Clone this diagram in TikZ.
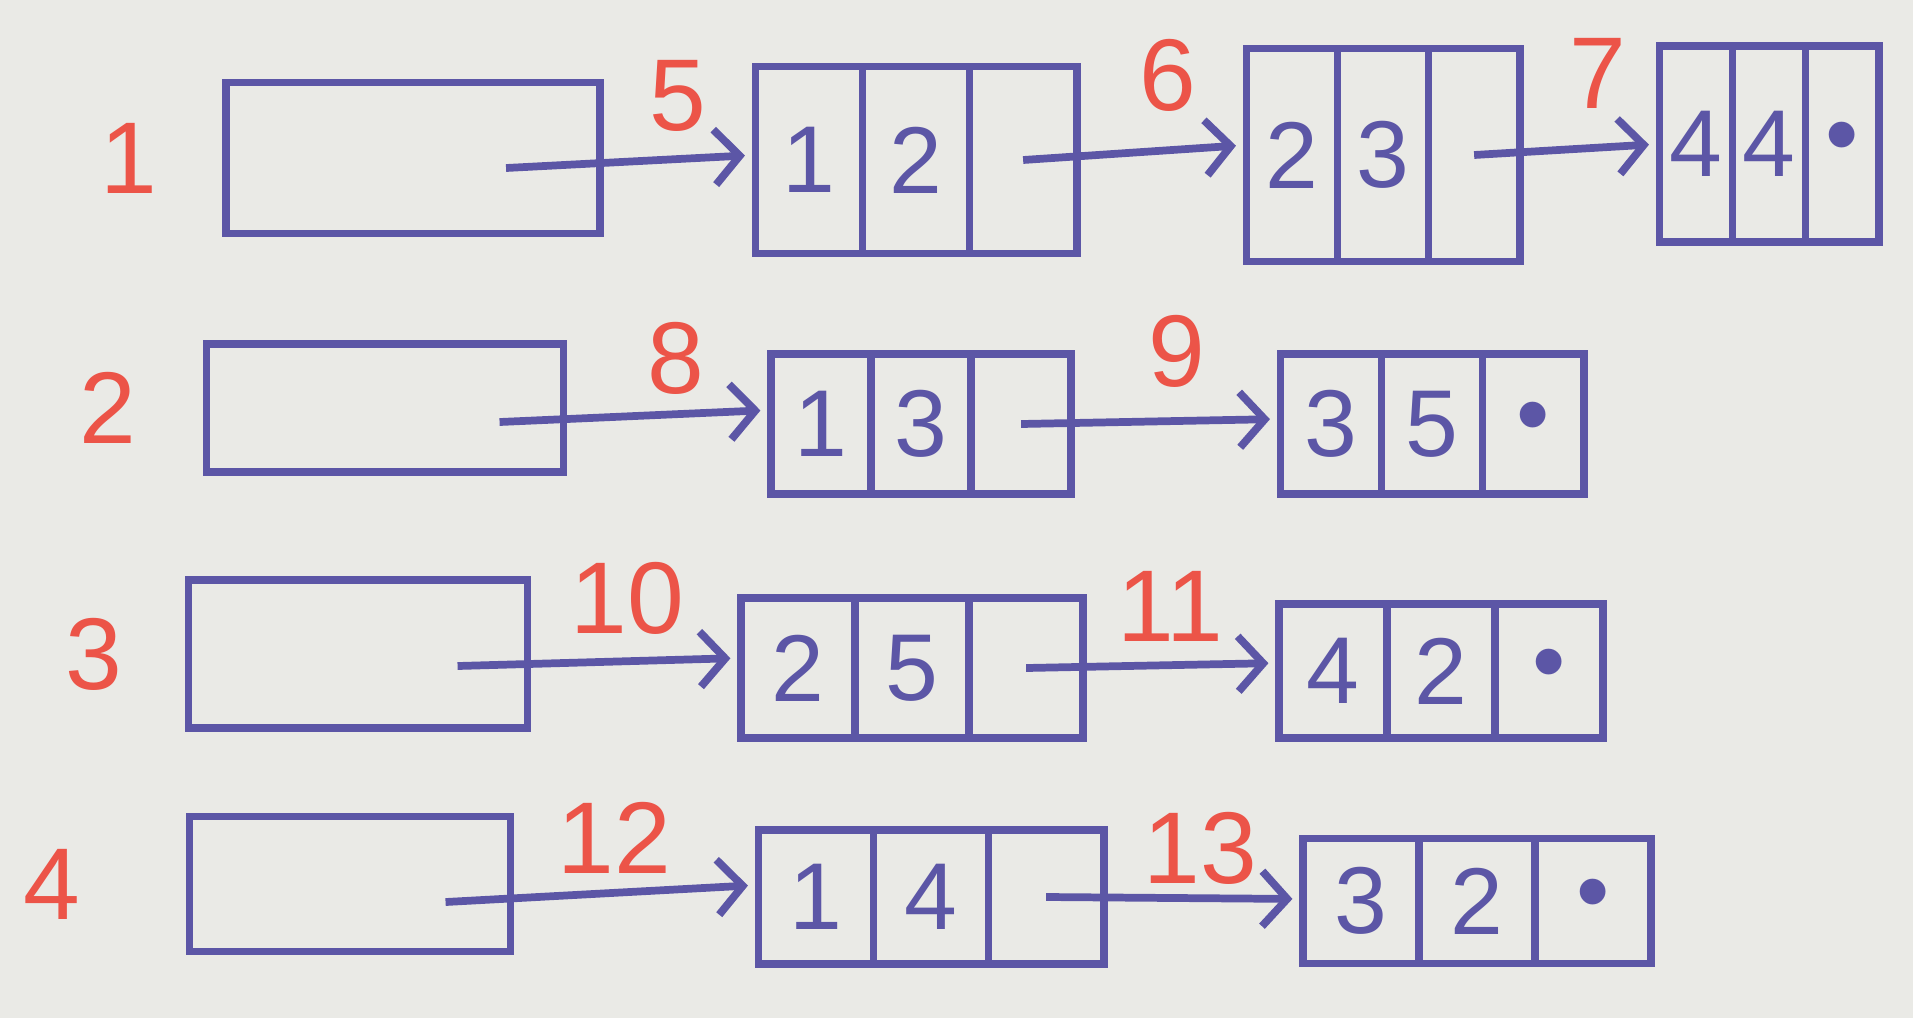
\documentclass[tikz,border=0pt]{standalone}
\usepackage{fontspec}
\setmainfont{Liberation Sans}
\usetikzlibrary{arrows.meta,positioning}
\definecolor{ink}{RGB}{92,86,166}
\definecolor{redink}{RGB}{236,84,72}
\definecolor{paper}{RGB}{234,234,230}
% one list element: name, x, y, cell width, cell height, three entries
\newcommand{\listelem}[8]{%
  \node[cell,minimum width=#4,minimum height=#5] (#1a) at (#2,#3) {#6};
  \node[cell,minimum width=#4,minimum height=#5,right=0pt of #1a] (#1b) {#7};
  \node[cell,minimum width=#4,minimum height=#5,right=0pt of #1b] (#1c) {#8};
}

\begin{document}
\begin{tikzpicture}[
  x=0.01cm,y=-0.01cm,
  line width=2.2pt,
  cell/.style={
    draw=ink,
    inner sep=0pt,
    outer sep=0pt,
    text=ink,
    font=\fontsize{27}{30}\selectfont
  },
  head/.style={draw=ink,outer sep=0pt},
  lbl/.style={text=redink,inner sep=0pt,font=\fontsize{29}{34}\selectfont},
  link/.style={draw=ink,shorten >=3pt,-{Straight Barb[length=0.25cm,width=0.55cm]}}
]
\fill[paper] (0,0) rectangle (1913,1018);
\useasboundingbox (0,0) rectangle (1913,1018);

% vertex heads
\node[head,minimum width=3.74cm,minimum height=1.51cm] (h1) at (413,158) {};
\node[head,minimum width=3.57cm,minimum height=1.28cm] (h2) at (385,408) {};
\node[head,minimum width=3.39cm,minimum height=1.48cm] (h3) at (358,654) {};
\node[head,minimum width=3.21cm,minimum height=1.35cm] (h4) at (350,884) {};
\node[lbl,left=0.65cm of h1] (v1) {1};
\node[lbl,left=0.66cm of h2] (v2) {2};
\node[lbl,left=0.62cm of h3] (v3) {3};
\node[lbl,left=1.05cm of h4] (v4) {4};

% list elements
\listelem{e11}{809}{160}{1.07cm}{1.87cm}{1}{2}{}
\listelem{e12}{1292}{155}{0.91cm}{2.13cm}{2}{3}{}
\listelem{e13}{1696}{144}{0.73cm}{1.96cm}{4}{4}{\textbullet}
\listelem{e21}{821}{424}{1.00cm}{1.40cm}{1}{3}{}
\listelem{e22}{1331}{424}{1.01cm}{1.40cm}{3}{5}{\textbullet}
\listelem{e31}{798}{668}{1.14cm}{1.40cm}{2}{5}{}
\listelem{e32}{1333}{671}{1.08cm}{1.34cm}{4}{2}{\textbullet}
\listelem{e41}{816}{897}{1.15cm}{1.34cm}{1}{4}{}
\listelem{e42}{1361}{901}{1.16cm}{1.25cm}{3}{2}{\textbullet}

% links
\draw[link] ([xshift=-0.94cm,yshift=-0.1cm]h1.east) -- node[lbl,pos=.69,above=0.24cm] (l5) {5} ([yshift=0.05cm]e11a.west);
\draw[link] (e11c.center) -- node[lbl,pos=.65,above=0.35cm] (l6) {6} ([yshift=0.1cm]e12a.west);
\draw[link] (e12c.center) -- node[lbl,pos=.67,above=0.35cm] (l7) {7} (e13a.west);
\draw[link] ([xshift=-0.64cm,yshift=-0.14cm]h2.east) -- node[lbl,pos=.65,above=0.16cm] (l8) {8} ([yshift=0.14cm]e21a.west);
\draw[link] (e21c.center) -- node[lbl,pos=.6,above=0.3cm] (l9) {9} ([yshift=0.05cm]e22a.west);
\draw[link] ([xshift=-0.7cm,yshift=-0.12cm]h3.east) -- node[lbl,pos=.6,above=0.23cm] (l10) {10} ([yshift=0.1cm]e31a.west);
\draw[link] (e31c.center) -- node[lbl,pos=.57,above=0.2cm] (l11) {11} ([yshift=0.08cm]e32a.west);
\draw[link] ([xshift=-0.65cm,yshift=-0.18cm]h4.east) -- node[lbl,pos=.54,above=0.15cm] (l12) {12} ([yshift=0.12cm]e41a.west);
\draw[link] (e41c.center) -- node[lbl,pos=.6,above=0.1cm] (l13) {13} ([yshift=0.02cm]e42a.west);
\end{tikzpicture}
\end{document}
